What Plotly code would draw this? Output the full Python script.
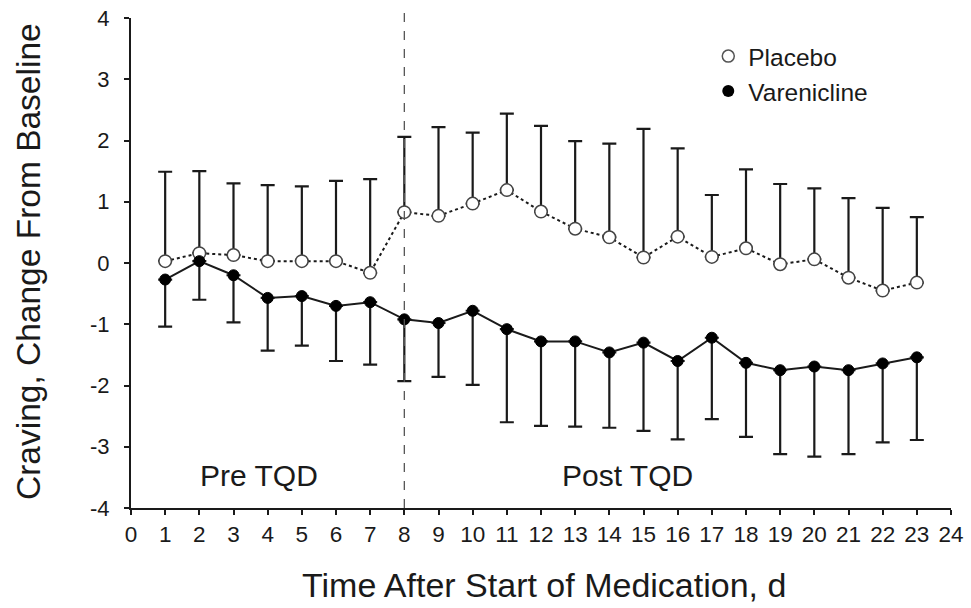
import plotly.graph_objects as go

days = list(range(1, 24))
placebo_mean = [0.03, 0.16, 0.13, 0.03, 0.03, 0.03, -0.16, 0.83, 0.77, 0.97, 1.19, 0.84,
                0.56, 0.42, 0.09, 0.43, 0.10, 0.24, -0.02, 0.06, -0.24, -0.45, -0.32]
placebo_sd = [1.46, 1.34, 1.17, 1.24, 1.22, 1.31, 1.53, 1.23, 1.45, 1.16, 1.25, 1.40,
              1.43, 1.53, 2.10, 1.44, 1.01, 1.29, 1.31, 1.16, 1.30, 1.35, 1.07]
varen_mean = [-0.27, 0.03, -0.20, -0.57, -0.54, -0.70, -0.64, -0.92, -0.98, -0.78, -1.08, -1.28,
              -1.28, -1.46, -1.30, -1.60, -1.22, -1.63, -1.75, -1.69, -1.75, -1.64, -1.54]
varen_sd = [0.77, 0.63, 0.77, 0.86, 0.81, 0.90, 1.02, 1.01, 0.88, 1.21, 1.52, 1.38,
            1.39, 1.23, 1.44, 1.28, 1.33, 1.21, 1.37, 1.47, 1.37, 1.29, 1.35]
x_ticks = list(range(0, 25))
y_ticks = list(range(-4, 5))
tqd_day = 8
phase_labels = ["Pre TQD", "Post TQD"]
phase_x = [3.75, 14.52]
phase_y = -3.47
x_title = "Time After Start of Medication, d"
y_title = "Craving, Change From Baseline"

FONT = "Liberation Sans, Arial, sans-serif"
INK = "#1a1a1a"

fig = go.Figure()

# Placebo (dotted, open circles, upward error bars)
fig.add_trace(go.Scatter(
    x=days, y=placebo_mean, mode="lines+markers", showlegend=False,
    line=dict(color=INK, width=2, dash="dot"),
    marker=dict(symbol="circle", size=12.5, color="white", line=dict(color="#444", width=1.5)),
    error_y=dict(type="data", symmetric=False, array=placebo_sd, arrayminus=[0] * len(days),
                 color=INK, thickness=2.2, width=7),
))
# Varenicline (solid, filled circles, downward error bars)
fig.add_trace(go.Scatter(
    x=days, y=varen_mean, mode="lines+markers", showlegend=False,
    line=dict(color=INK, width=2),
    marker=dict(symbol="circle", size=11, color="black", line=dict(color="black", width=1)),
    error_y=dict(type="data", symmetric=False, array=[0] * len(days), arrayminus=varen_sd,
                 color=INK, thickness=2.2, width=7),
))

# legend-only entries
fig.add_trace(go.Scatter(x=[None], y=[None], mode="markers", name="Placebo",
                         marker=dict(symbol="circle", size=12, color="white",
                                     line=dict(color="#555", width=1.5))))
fig.add_trace(go.Scatter(x=[None], y=[None], mode="markers", name="Varenicline",
                         marker=dict(symbol="circle", size=12, color="black")))

# TQD dashed line
fig.add_shape(type="line", xref="x", yref="paper", x0=tqd_day, x1=tqd_day, y0=0, y1=1.013,
              line=dict(color="#555", width=1.3, dash="dash"))

for lab, px in zip(phase_labels, phase_x):
    fig.add_annotation(x=px, y=phase_y, text=lab, showarrow=False,
                       font=dict(family=FONT, size=30, color=INK))

fig.add_annotation(xref="paper", yref="paper", x=0.504, y=-0.157, text=x_title,
                   showarrow=False, xanchor="center", yanchor="middle",
                   font=dict(family=FONT, size=34, color=INK))
fig.add_annotation(xref="paper", yref="paper", x=-0.1256, y=0.502, text=y_title,
                   showarrow=False, xanchor="center", yanchor="middle", textangle=-90,
                   font=dict(family=FONT, size=33.5, color=INK))

fig.update_layout(
    width=971, height=608,
    margin=dict(l=131, r=20, t=18, b=100, autoexpand=False),
    paper_bgcolor="white", plot_bgcolor="white",
    font=dict(family=FONT, color=INK),
    legend=dict(x=0.704, y=0.968, xanchor="left", yanchor="top",
                font=dict(family=FONT, size=24.5, color=INK),
                bgcolor="rgba(0,0,0,0)", itemwidth=30, tracegroupgap=0),
    xaxis=dict(range=[0, 24], tickvals=x_ticks, ticktext=[str(v) for v in x_ticks],
               automargin=False, ticklabeloverflow="allow",
               showgrid=False, zeroline=False, showline=True, linecolor=INK, linewidth=2,
               ticks="outside", ticklen=5, tickwidth=1.5, tickcolor=INK,
               tickfont=dict(family=FONT, size=22.5, color=INK)),
    yaxis=dict(range=[-4, 4], tickvals=y_ticks, ticktext=[str(v) for v in y_ticks],
               automargin=False, ticklabelstandoff=10, ticklabeloverflow="allow",
               showgrid=False, zeroline=False, showline=True, linecolor=INK, linewidth=2,
               ticks="outside", ticklen=5, tickwidth=1.5, tickcolor=INK,
               tickfont=dict(family=FONT, size=22, color=INK)),
)

# remove the default 8px page margin so the figure fills the window exactly
fig.write_html("out.html", config={"displayModeBar": False},
               post_script="document.body.style.margin='0';document.body.style.overflow='hidden';")
